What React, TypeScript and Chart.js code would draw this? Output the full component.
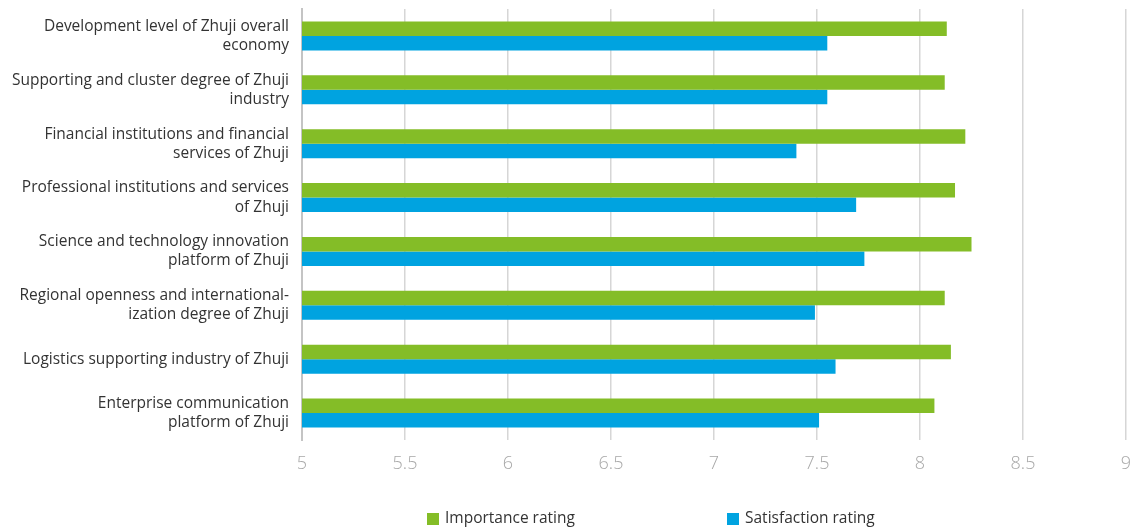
import React, { useEffect, useRef } from "react";
import { Chart, registerables } from "chart.js";
Chart.register(...registerables);

const categories: string[][] = [
  ["Development level of Zhuji overall", "economy"],
  ["Supporting and cluster degree of Zhuji", "industry"],
  ["Financial institutions and financial", "services of Zhuji"],
  ["Professional institutions and services", "of Zhuji"],
  ["Science and technology innovation", "platform of Zhuji"],
  ["Regional openness and international-", "ization degree of Zhuji"],
  ["Logistics supporting industry of Zhuji"],
  ["Enterprise communication", "platform of Zhuji"],
];
const importance = [8.13, 8.12, 8.22, 8.17, 8.25, 8.12, 8.15, 8.07];
const satisfaction = [7.55, 7.55, 7.4, 7.69, 7.73, 7.49, 7.59, 7.51];
const seriesNames = ["Importance rating", "Satisfaction rating"];
const seriesColors = ["#84BD27", "#00A3E0"];
const xMin = 5;
const xMax = 9;
const xStep = 0.5;

const FONT = "'Open Sans', 'Noto Sans', sans-serif";

const bottomLegend = {
  id: "bottomLegend",
  afterDraw(chart: any) {
    const ctx = chart.ctx as CanvasRenderingContext2D;
    ctx.save();
    ctx.font = `15.5px ${FONT}`;
    ctx.textBaseline = "middle";
    ctx.textAlign = "left";
    const y = chart.height - 9;
    chart.data.datasets.forEach((ds: any, i: number) => {
      const x = chart.chartArea.left + 125 + i * 300;
      ctx.fillStyle = ds.backgroundColor;
      ctx.fillRect(x, y - 6, 12, 12);
      ctx.fillStyle = "#333333";
      ctx.fillText(ds.label, x + 18, y);
    });
    ctx.restore();
  },
};

export default function App() {
  const ref = useRef<HTMLCanvasElement | null>(null);
  useEffect(() => {
    document.body.style.margin = "0";
    if (!ref.current) return;
    const chart = new Chart(ref.current, {
      type: "bar",
      data: {
        labels: categories,
        datasets: [
          {
            label: seriesNames[0],
            data: importance,
            backgroundColor: seriesColors[0],
            borderWidth: 0,
          },
          {
            label: seriesNames[1],
            data: satisfaction,
            backgroundColor: seriesColors[1],
            borderWidth: 0,
          },
        ],
      },
      options: {
        indexAxis: "y",
        responsive: false,
        animation: false,
        layout: { padding: { top: 9, right: 11, left: 0, bottom: 0 } },
        datasets: {
          bar: { categoryPercentage: 0.54, barPercentage: 1 },
        },
        plugins: {
          legend: { display: false },
          tooltip: { enabled: false },
        },
        scales: {
          x: {
            min: xMin,
            max: xMax,
            ticks: {
              stepSize: xStep,
              color: "#a8a8a8",
              font: { family: FONT, size: 18, weight: "300" },
              padding: 13,
              callback: (v: any) => String(Number(v)),
            },
            grid: {
              color: "#d6d6d6",
              lineWidth: 1.5,
              drawTicks: false,
            },
            border: { display: false },
            afterFit(scale: any) {
              scale.height = 88;
              scale.paddingLeft = 0;
              scale.paddingRight = 0;
            },
          },
          y: {
            ticks: {
              color: "#333333",
              font: { family: FONT, size: 15.5, lineHeight: 1.23 },
              padding: 13,
            },
            grid: { display: false, drawTicks: false },
            border: { display: true, color: "#c4c4c4", width: 2 },
            afterFit(scale: any) {
              scale.width = 302;
              scale.paddingTop = 0;
              scale.paddingBottom = 0;
            },
          },
        },
      },
      plugins: [bottomLegend],
    });
    return () => chart.destroy();
  }, []);
  return <canvas ref={ref} width={1137} height={528} />;
}
